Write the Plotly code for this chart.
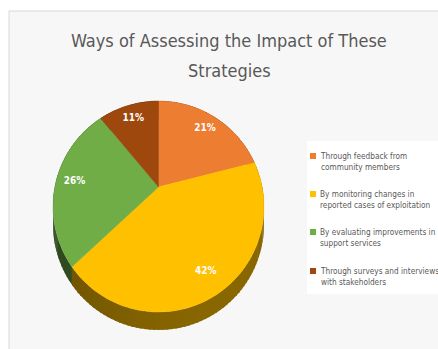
import numpy as np
import plotly.graph_objects as go

# ---- data ----
categories = [
    "Through feedback from community members",
    "By monitoring changes in reported cases of exploitation",
    "By evaluating improvements in support services",
    "Through surveys and interviews with stakeholders",
]
legend_lines = [
    ["Through feedback from", "community members"],
    ["By monitoring changes in", "reported cases of exploitation"],
    ["By evaluating improvements in", "support services"],
    ["Through surveys and interviews", "with stakeholders"],
]
shares = [21, 42, 26, 11]
title_lines = ["Ways of Assessing the Impact of These", "Strategies"]

# ---- styling ----
top_colors = ["#ED7D31", "#FFC000", "#70AD47", "#9E480E"]
W, H = 438, 349
PX = 105.5             # pixels per pie-radius unit
CX, CY = 158.5, 206.5  # pixel position of the pie outline centre
BETA = 0.185           # perspective tilt
DEPTH = 18 / PX        # thickness of the pie edge
FONT = "DejaVu Sans Condensed, Liberation Sans Narrow, sans-serif"
GREY = "#595959"


def project(u, v):
    """Tilted-disc projection: unit circle -> screen (pie units)."""
    d = 1 + BETA * v
    return u * np.sqrt(1 - BETA ** 2) / d, (v + BETA) / d


def rim(a0, a1, n):
    th = np.radians(np.linspace(a0, a1, n))
    return project(np.sin(th), np.cos(th))


def shade(hex_color, f):
    r, g, b = (int(hex_color[i:i + 2], 16) for i in (1, 3, 5))
    return "rgb({},{},{})".format(*(int(min(255, c * f)) for c in (r, g, b)))


def px_x(p):
    return p / W


def px_y(p):
    return 1 - p / H


fig = go.Figure()

total = float(sum(shares))
bounds = np.concatenate([[0], np.cumsum(shares) / total * 360.0])

# edge of the pie (drawn first, the top face covers the hidden parts)
STEP = 2.0
for i in range(len(shares)):
    a0, a1 = bounds[i], bounds[i + 1]
    steps = np.arange(a0, a1, STEP).tolist() + [a1]
    for s0, s1 in zip(steps[:-1], steps[1:]):
        e1 = min(s1 + 0.8, a1) if s1 < a1 else s1
        x, y = rim(s0, e1, 5)
        mid = np.radians((s0 + s1) / 2)
        f = 0.44 + 0.1 * np.cos(mid - np.radians(140))
        xs = np.concatenate([x, x[::-1]])
        ys = np.concatenate([y, (y - DEPTH)[::-1]])
        fig.add_trace(go.Scatter(
            x=xs, y=ys, mode="lines", fill="toself",
            fillcolor=shade(top_colors[i], f),
            line=dict(width=0),
            hoverinfo="skip", showlegend=False))

# top face slices
cx0, cy0 = project(0.0, 0.0)
for i in range(len(shares)):
    x, y = rim(bounds[i], bounds[i + 1], 80)
    fig.add_trace(go.Scatter(
        x=np.concatenate([[cx0], x, [cx0]]),
        y=np.concatenate([[cy0], y, [cy0]]),
        mode="lines", fill="toself", fillcolor=top_colors[i],
        line=dict(width=0.5, color=top_colors[i]),
        name=categories[i], hoverinfo="name", showlegend=False))

# data labels
mids = np.radians((bounds[:-1] + bounds[1:]) / 2)
lx, ly = project(0.82 * np.sin(mids), 0.82 * np.cos(mids))
fig.add_trace(go.Scatter(
    x=lx, y=ly, mode="text",
    text=[f"{s}%" for s in shares],
    textfont=dict(family=FONT, size=10, color="white", weight="bold"),
    hoverinfo="skip", showlegend=False))

# chart frame and legend panel
shapes = [
    dict(type="rect", xref="paper", yref="paper", layer="below",
         x0=px_x(9), x1=1.01, y0=-0.01, y1=px_y(11),
         fillcolor="#f7f7f7", line=dict(color="#d9d9d9", width=1)),
    dict(type="rect", xref="paper", yref="paper", layer="below",
         x0=px_x(307), x1=1.01, y0=px_y(294), y1=px_y(141),
         fillcolor="white", line=dict(width=0)),
]

# title, one annotation per line
annotations = []
for line, yc in zip(title_lines, [40, 70]):
    annotations.append(dict(
        text=line, xref="paper", yref="paper",
        x=px_x(229), y=px_y(yc), xanchor="center", yanchor="middle",
        showarrow=False,
        font=dict(family=FONT, size=18, color=GREY)))

# legend keys and two-line labels
item_top = [149, 187, 225, 264]
for i, lines in enumerate(legend_lines):
    y0 = item_top[i]
    shapes.append(dict(
        type="rect", xref="paper", yref="paper",
        x0=px_x(310), x1=px_x(316), y0=px_y(y0 + 10), y1=px_y(y0 + 4),
        fillcolor=top_colors[i], line=dict(width=0)))
    annotations.append(dict(
        text="<br>".join(lines), xref="paper", yref="paper",
        x=px_x(318), y=px_y(y0), xanchor="left", yanchor="top",
        align="left", showarrow=False,
        font=dict(family=FONT, size=8.2, color=GREY)))

fig.update_layout(
    width=W, height=H,
    margin=dict(l=0, r=0, t=0, b=0, autoexpand=False),
    paper_bgcolor="white", plot_bgcolor="rgba(0,0,0,0)",
    xaxis=dict(range=[-CX / PX, (W - CX) / PX], visible=False, fixedrange=True),
    yaxis=dict(range=[-(H - CY) / PX, CY / PX], visible=False, fixedrange=True),
    showlegend=False,
    shapes=shapes,
    annotations=annotations,
)

fig.write_html("out.html")
